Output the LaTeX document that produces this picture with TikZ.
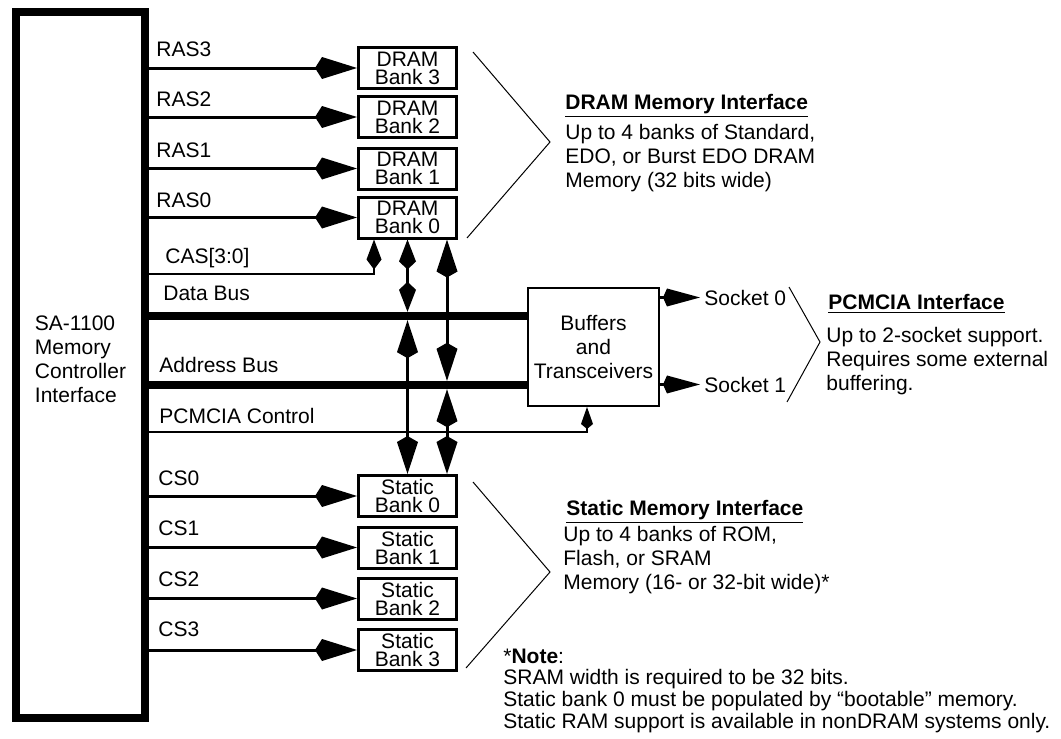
\documentclass[tikz,border=0pt]{standalone}
\usepackage{fontspec}
\setmainfont{Liberation Sans}
\usetikzlibrary{arrows.meta, positioning}

\begin{document}
\begin{tikzpicture}[
	x=0.5pt, y=-0.5pt,
	txt/.style={font=\fontsize{10.5}{12}\selectfont, inner sep=0pt},
	ctrl/.style={rectangle, draw=black, line width=4pt, minimum width=64.5pt, minimum height=353pt, align=left, txt},
	bank/.style={rectangle, draw=black, line width=1.5pt, minimum width=49pt, minimum height=20.5pt, align=center, inner sep=0pt, font=\fontsize{10.5}{9}\selectfont},
	buffer/.style={rectangle, draw=black, line width=1pt, minimum width=65.5pt, minimum height=59pt, align=center, txt},
	sig/.style={txt, anchor=base west},
	body/.style={txt, anchor=base west, align=left},
	heading/.style={txt, anchor=base west, font=\fontsize{10.5}{12}\selectfont\bfseries},
	wire/.style={line width=1.5pt, -{Kite[length=21pt, width=11pt, inset=3.5pt]}},
	sockwire/.style={line width=1.5pt, -{Kite[length=18.5pt, width=9pt, inset=2pt]}},
	bus/.style={line width=4.25pt},
	busline/.style={line width=1.5pt, {Kite[length=19pt, width=10.5pt, inset=3pt]}-{Kite[length=19pt, width=10.5pt, inset=3pt]}},
	shortbus/.style={line width=1.5pt, {Kite[length=15pt, width=8.5pt, inset=4pt]}-{Kite[length=15pt, width=8.5pt, inset=4pt]}},
	casline/.style={line width=1.2pt, -{Kite[length=15pt, width=7.5pt, inset=5pt]}},
	pcline/.style={line width=1.2pt, -{Kite[length=11pt, width=6pt, inset=2.5pt]}},
	brace/.style={line width=0.5pt}
	]
	\useasboundingbox (0,0) rectangle (1061,739);
	
	% Memory controller
	\node[ctrl] (smc) at (80.5,365) {SA-1100\\Memory\\Controller\\Interface\rule[-6pt]{0pt}{6pt}};
	
	% DRAM banks
	\node[bank] (d3) at (407.5,68) {DRAM\\Bank 3};
	\node[bank] (d2) at (407.5,117) {DRAM\\Bank 2};
	\node[bank] (d1) at (407.5,168.5) {DRAM\\Bank 1};
	\node[bank] (d0) at (407.5,217.5) {DRAM\\Bank 0};
	
	% Static banks
	\node[bank] (s0) at (407.5,496) {Static\\Bank 0};
	\node[bank] (s1) at (407.5,547.5) {Static\\Bank 1};
	\node[bank] (s2) at (407.5,598.5) {Static\\Bank 2};
	\node[bank] (s3) at (407.5,650) {Static\\Bank 3};
	
	% Buffers
	\node[buffer] (buf) at (593.5,347) {Buffers\\and\\Transceivers};
	
	% Bus positions
	\coordinate (dbus) at (0,316);
	\coordinate (abus) at (0,385);
	\coordinate (cas) at (374,274);
	\coordinate (pcc) at (587,432);
	\coordinate (xa) at (447,0);
	
	% Signal labels
	\node[sig] (ras3) at (156,56) {RAS3};
	\node[sig] (ras2) at (156,106) {RAS2};
	\node[sig] (ras1) at (156,157) {RAS1};
	\node[sig] (ras0) at (156,207) {RAS0};
	\node[sig] (caslbl) at (165,263) {CAS[3:0]};
	\node[sig] (dbuslbl) at (163,300) {Data Bus};
	\node[sig] (abuslbl) at (159,372) {Address Bus};
	\node[sig] (pcclbl) at (159,423) {PCMCIA Control};
	\node[sig] (cs0) at (158,485) {CS0};
	\node[sig] (cs1) at (158,535) {CS1};
	\node[sig] (cs2) at (158,586) {CS2};
	\node[sig] (cs3) at (158,636) {CS3};
	
	% RAS and CS lines
	\draw[wire] (smc.east |- d3.west) -- (d3.west);
	\draw[wire] (smc.east |- d2.west) -- (d2.west);
	\draw[wire] (smc.east |- d1.west) -- (d1.west);
	\draw[wire] (smc.east |- d0.west) -- (d0.west);
	\draw[wire] (smc.east |- s0.west) -- (s0.west);
	\draw[wire] (smc.east |- s1.west) -- (s1.west);
	\draw[wire] (smc.east |- s2.west) -- (s2.west);
	\draw[wire] (smc.east |- s3.west) -- (s3.west);
	
	% Buses
	\draw[bus] (smc.east |- dbus) -- (buf.west |- dbus);
	\draw[bus] (smc.east |- abus) -- (buf.west |- abus);
	
	% CAS and PCMCIA control
	\draw[casline] (smc.east |- cas) -- (cas) -- (d0.south -| cas);
	\draw[pcline] (smc.east |- pcc) -- (pcc) -- (buf.south -| pcc);
	
	% Vertical connections
	\draw[shortbus, shorten >=2.1pt] (d0.south) -- (d0.south |- dbus);
	\draw[busline, shorten <=2.1pt] (d0.south |- dbus) -- (s0.north);
	\draw[busline, shorten >=2.1pt] (d0.south -| xa) -- (abus -| xa);
	\draw[busline, shorten <=2.1pt] (abus -| xa) -- (s0.north -| xa);
	
	% Sockets
	\node[sig] (sock0) at (704,305) {Socket 0};
	\node[sig] (sock1) at (704,392) {Socket 1};
	\draw[sockwire, shorten >=2pt] (buf.east |- sock0.west) -- (sock0.west);
	\draw[sockwire, shorten >=2pt] (buf.east |- sock1.west) -- (sock1.west);
	
	% Interface braces
	\draw[brace] (473,52) -- (550,142) -- (467,238);
	\draw[brace] (789,287) -- (820,342) -- (787,402);
	\draw[brace] (473,482) -- (550,572) -- (466,668);
	
	% Interface descriptions
	\node[heading] (dramhd) at (565,109) {\underline{DRAM Memory Interface}};
	\node[body] (dramtxt) at (565,187) {Up to 4 banks of Standard,\\EDO, or Burst EDO DRAM\\Memory (32 bits wide)};
	\node[heading] (pchd) at (828,309) {\underline{PCMCIA Interface}};
	\node[body] (pctxt) at (826,390) {Up to 2-socket support.\\Requires some external\\buffering.};
	\node[heading] (sthd) at (566,515) {\underline{Static Memory Interface}};
	\node[body] (sttxt) at (563,589) {Up to 4 banks of ROM,\\Flash, or SRAM\\Memory (16- or 32-bit wide)*};
	\node[body, font=\fontsize{10.5}{10.8}\selectfont] (note) at (503,728) {*\textbf{Note}:\\SRAM width is required to be 32 bits.\\Static bank 0 must be populated by “bootable” memory.\\Static RAM support is available in nonDRAM systems only.};
	
\end{tikzpicture}
\end{document}
